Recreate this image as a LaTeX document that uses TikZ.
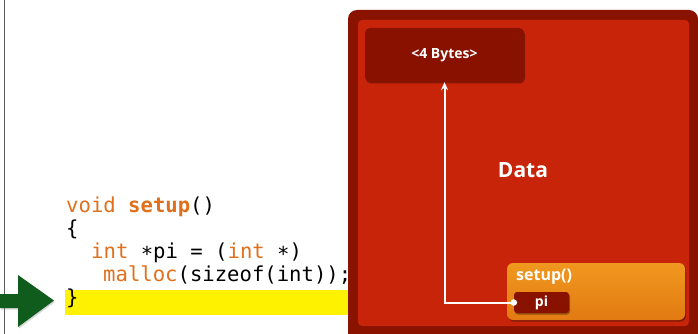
\documentclass[tikz,border=0pt]{standalone}
\usepackage{fontspec}
\setmainfont{Open Sans}
\newfontfamily\codefont{DejaVu Sans Mono}
\usetikzlibrary{arrows.meta,shadows}
\definecolor{outerred}{HTML}{8A1300}
\definecolor{innerred}{HTML}{C8240A}
\definecolor{darkbox}{HTML}{891100}
\definecolor{kw}{HTML}{E0701C}
\definecolor{arrowgreen}{HTML}{0F5C1C}
\definecolor{orangetop}{HTML}{F0981F}
\definecolor{orangebot}{HTML}{E27A12}
\newcommand{\cstar}{\raisebox{-0.28ex}{*}}
\tikzset{
  codeline/.style={anchor=base west, inner sep=0pt, font=\codefont\fontsize{20.6}{22}\selectfont},
  whitelabel/.style={text=white, font=\bfseries\fontsize{12}{14}\selectfont},
  boxshadow/.style={drop shadow={shadow xshift=1pt, shadow yshift=-1.5pt, opacity=0.35, fill=black}},
}
\begin{document}
\begin{tikzpicture}[x=1pt,y=-1pt]
\useasboundingbox (0,0) rectangle (698,334);
\fill[white] (0,0) rectangle (698,334);
% left gray rule
\draw[gray!70!black, line width=1.5pt] (4.5,0) -- (4.5,334);
% yellow highlight
\fill[yellow] (65,290) rectangle (350,315);
% green arrow
\fill[arrowgreen, drop shadow={shadow xshift=1pt, shadow yshift=-1.5pt, opacity=0.3}]
  (0,294) -- (18,294) -- (18,275) -- (54,300.5) -- (18,327) -- (18,308) -- (0,308) -- cycle;
% code
\node[codeline] (c1) at (66,212) {\textcolor{kw}{void} \textcolor{kw}{\bfseries setup}()};
\node[codeline] (c2) at (66,235) {\{};
\node[codeline] (c3) at (91,258) {\textcolor{kw}{int} \cstar pi = (\textcolor{kw}{int} \cstar)};
\node[codeline] (c4) at (103,281) {\textcolor{kw}{malloc}(sizeof(int));};
\node[codeline] (c5) at (66,304) {\}};
% memory boxes
\fill[outerred, rounded corners=9pt] (348,10) rectangle (698,345);
\fill[innerred, rounded corners=4pt] (358,20) rectangle (689,326);
\node[fill=darkbox, rounded corners=5pt, boxshadow, minimum width=159pt, minimum height=54pt, inner sep=0pt, whitelabel, font=\bfseries\fontsize{14}{16}\selectfont] (bytes) at (444.5,55) {<4 Bytes>};
\node[text=white, font=\bfseries\fontsize{21}{23}\selectfont] (data) at (523,170) {Data};
\path[boxshadow, rounded corners=6pt, top color=orangetop, bottom color=orangebot] (507,263) rectangle (685,320);
\node[whitelabel, anchor=base west, inner sep=0pt, font=\bfseries\fontsize{16}{18}\selectfont] (setup) at (516,280) {setup()};
\node[fill=darkbox, rounded corners=3pt, boxshadow, minimum width=55pt, minimum height=21pt, inner sep=0pt, whitelabel, font=\bfseries\fontsize{14}{16}\selectfont] (pi) at (541.5,302.5) {pi};
% pointer
\draw[white, line width=2pt, -{Stealth[length=8pt,width=7pt]}] (pi.west) -| (bytes.south);
\fill[white] (pi.west) circle (3.3pt);
\end{tikzpicture}
\end{document}
